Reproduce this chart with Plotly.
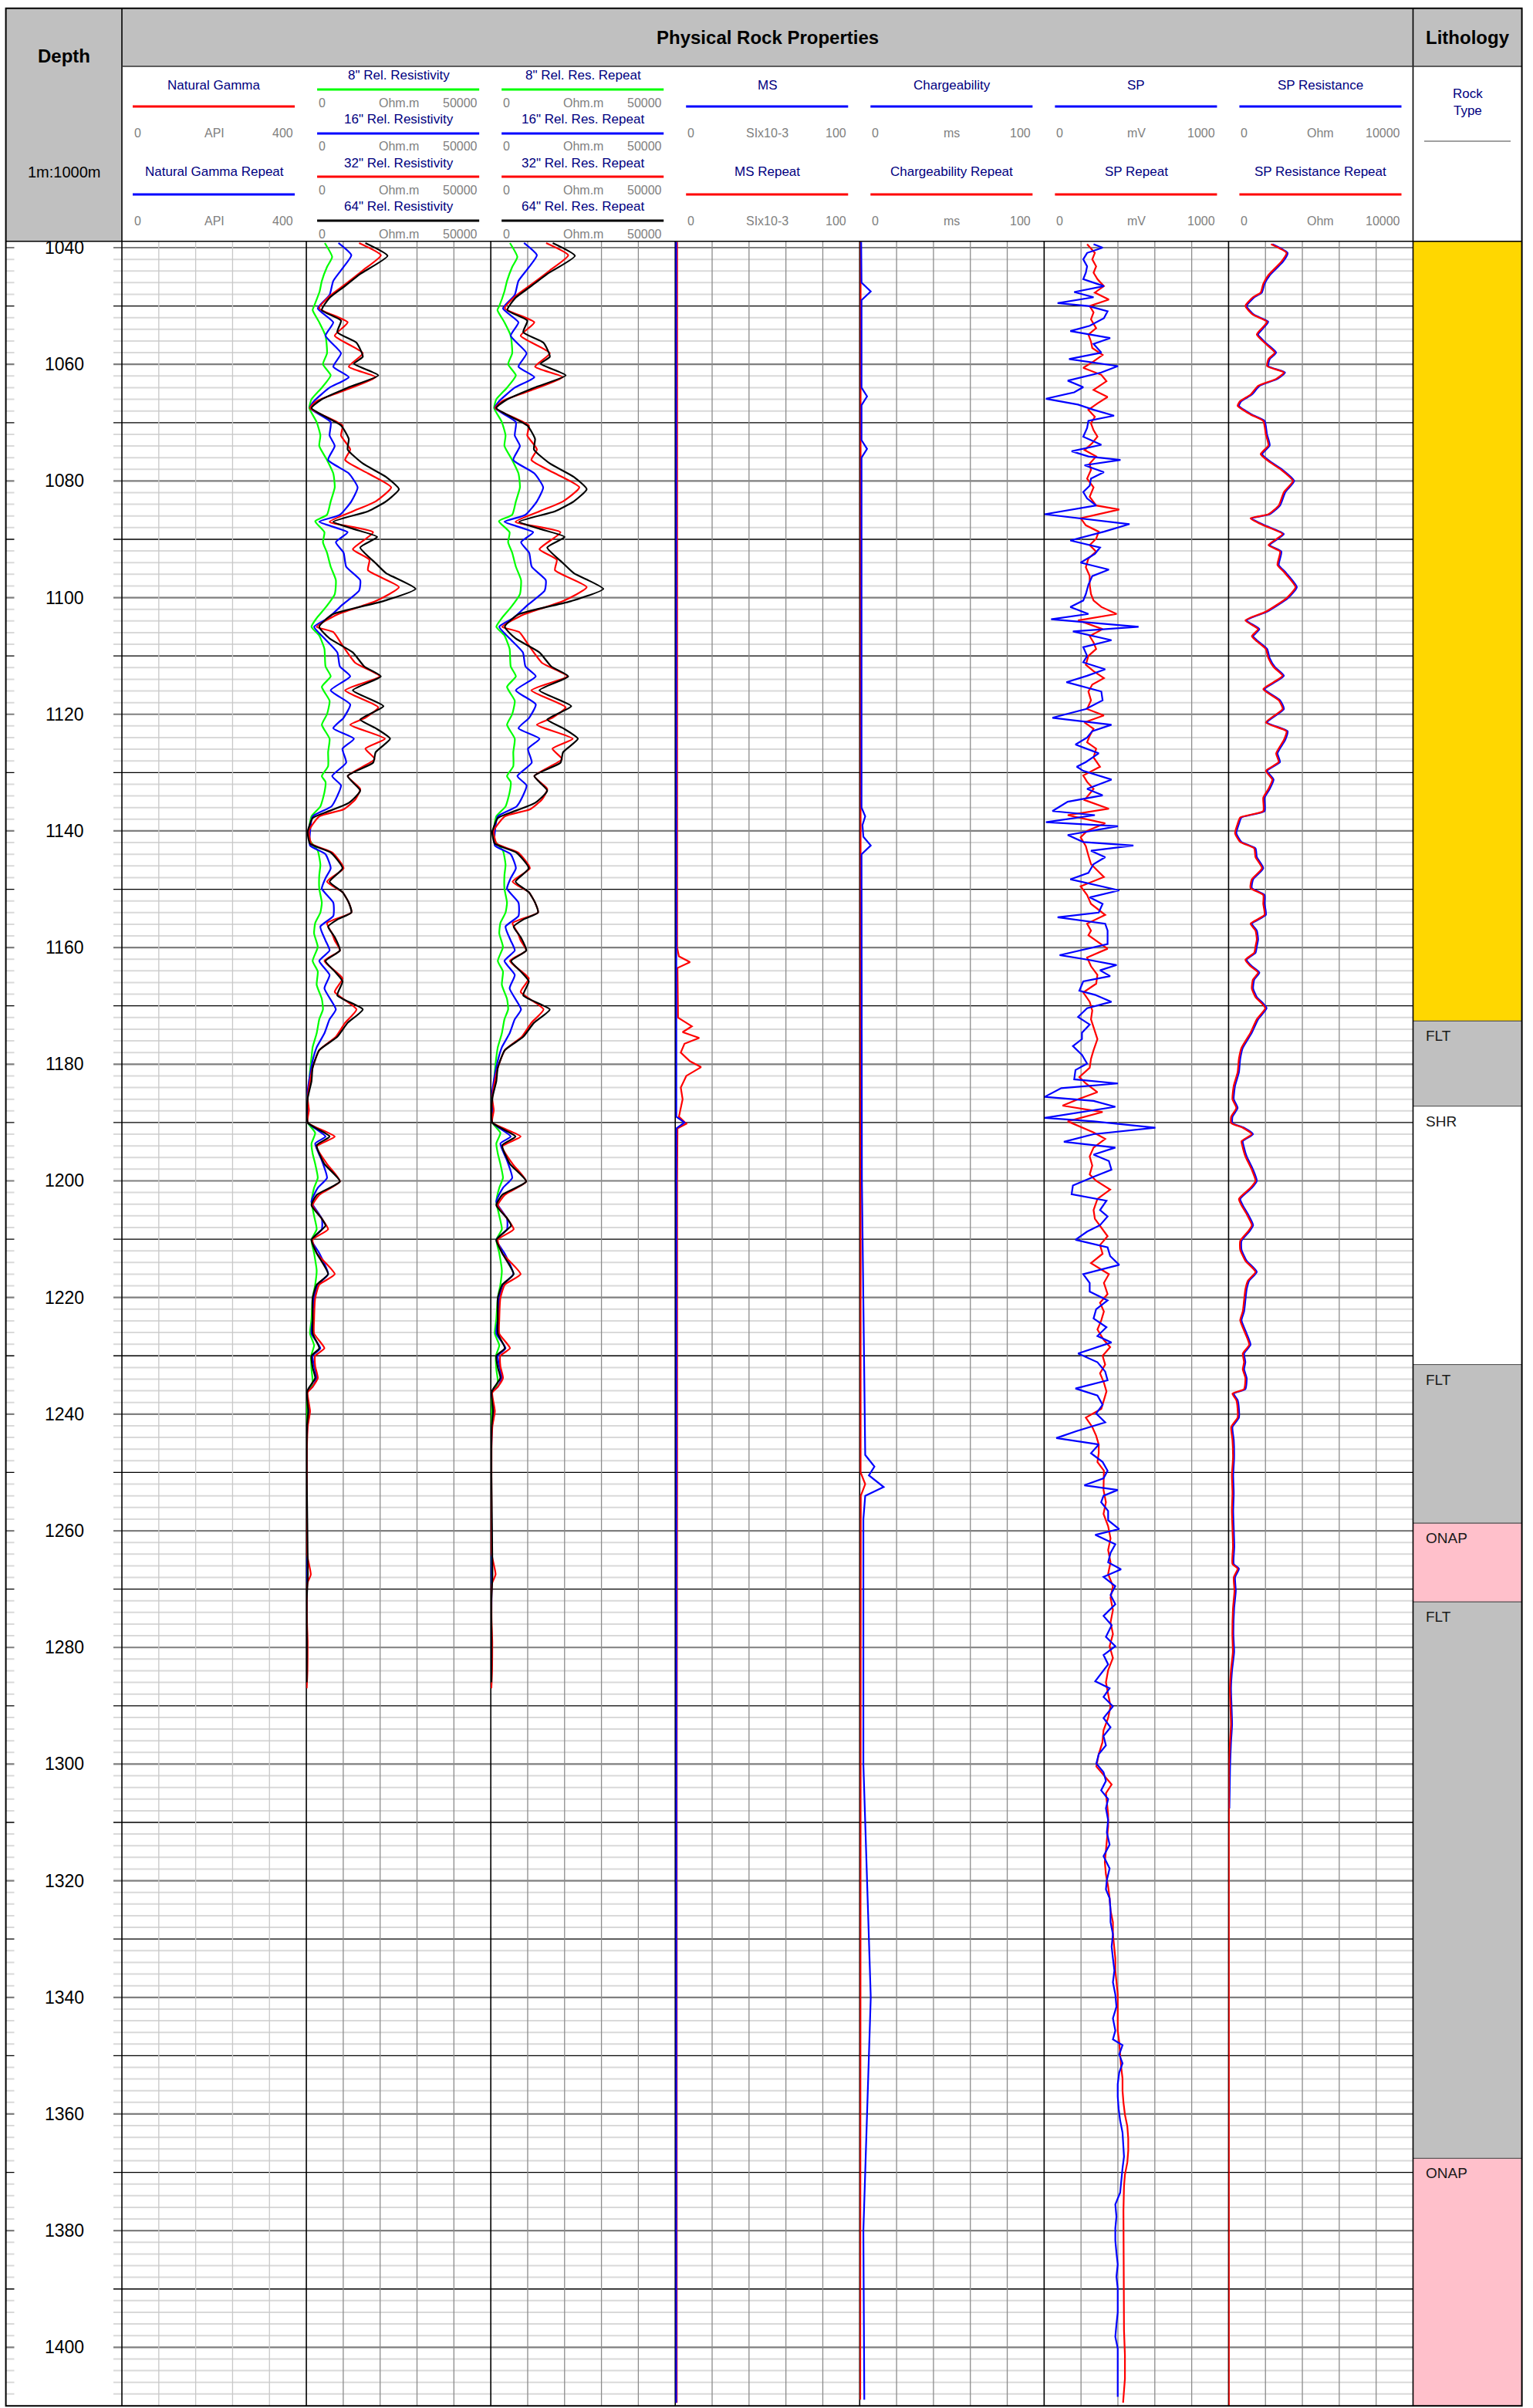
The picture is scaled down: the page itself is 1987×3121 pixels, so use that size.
import plotly.graph_objects as go

# ---------------------------------------------------------------- page geometry
W, H = 1987, 3121
FONT = "Liberation Sans, Arial, Helvetica, sans-serif"


def X(px):
    return px / W


def Y(py):
    return 1 - py / H


DEPTH_TOP, DEPTH_BOTTOM = 1038.9, 1410.05
PLOT_TOP_PX, PLOT_BOTTOM_PX = 312.7, 3118.3
LEFT_PX, DEPTH_COL_PX, LITH_PX, RIGHT_PX = 7.6, 158.0, 1831.5, 1972.6
TOP_PX, BAND_PX = 10.7, 86.0
N_TRACKS = 7
TRACK_W = (LITH_PX - DEPTH_COL_PX) / N_TRACKS
TRACK_EDGES = [DEPTH_COL_PX + i * TRACK_W for i in range(N_TRACKS + 1)]

# ---------------------------------------------------------------- track headers
TRACK_TITLES = [
    ["Natural Gamma", "Natural Gamma Repeat"],
    ['8" Rel. Resistivity', '16" Rel. Resistivity', '32" Rel. Resistivity', '64" Rel. Resistivity'],
    ['8" Rel. Res. Repeat', '16" Rel. Res. Repeat', '32" Rel. Res. Repeat', '64" Rel. Res. Repeat'],
    ["MS", "MS Repeat"],
    ["Chargeability", "Chargeability Repeat"],
    ["SP", "SP Repeat"],
    ["SP Resistance", "SP Resistance Repeat"],
]
TRACK_COLORS = [
    ["red", "blue"],
    ["#00FF00", "blue", "red", "black"],
    ["#00FF00", "blue", "red", "black"],
    ["blue", "red"],
    ["blue", "red"],
    ["blue", "red"],
    ["blue", "red"],
]
TRACK_UNITS = ["API", "Ohm.m", "Ohm.m", "SIx10-3", "ms", "mV", "Ohm"]
TRACK_MAX = [400, 50000, 50000, 100, 100, 1000, 10000]

DEPTH_LABELS = list(range(1040, 1401, 20))

# ---------------------------------------------------------------- lithology
LITH_TOP = [1038.9, 1172.6, 1187.2, 1231.5, 1258.7, 1272.2, 1367.6]
LITH_BASE = [1172.6, 1187.2, 1231.5, 1258.7, 1272.2, 1367.6, 1410.05]
LITH_CODE = ["", "FLT", "SHR", "FLT", "ONAP", "FLT", "ONAP"]
LITH_FILL = ["#FFD700", "#C0C0C0", "#FFFFFF", "#C0C0C0", "#FFC0CB", "#C0C0C0", "#FFC0CB"]

# ---------------------------------------------------------------- relative resistivity (Ohm.m)
RES8_DEPTH = [1039.2, 1041.6, 1043.3, 1045.7, 1047.5, 1050.0, 1050.7, 1052.8, 1055.1, 1058.1,
              1060.0, 1061.9, 1064.0, 1066.0, 1067.5, 1069.9, 1072.2, 1074.0, 1076.4, 1078.7,
              1081.1, 1083.5, 1085.8, 1086.9, 1088.8, 1090.5, 1092.3, 1094.7, 1097.0, 1099.4,
              1101.7, 1103.5, 1105.0, 1106.5, 1108.8, 1111.8, 1113.5, 1115.3, 1117.7, 1120.0,
              1121.8, 1124.2, 1126.5, 1128.9, 1130.6,
              1131.6, 1133.4, 1135.8, 1137.5, 1140.0, 1141.7, 1143.4, 1145.8, 1147.6, 1149.9,
              1152.3, 1154.0, 1155.8, 1157.6, 1159.9, 1162.3, 1164.1, 1166.4, 1168.8, 1170.6,
              1172.3, 1174.7, 1177.1, 1178.8, 1181.2, 1183.5, 1185.3, 1187.7, 1190.0, 1191.8,
              1193.6, 1195.3, 1197.1, 1199.5, 1201.2, 1203.6, 1206.0, 1208.3, 1210.1, 1212.4,
              1215.4, 1217.8, 1220.1,
              1223.7, 1226.2, 1228.2, 1230.0, 1232.3, 1234.3, 1235.3, 1236.3, 1238.5, 1241.0,
              1245.0, 1255.0, 1265.0, 1267.5, 1270.0, 1280.0, 1285.0]
RES8 = [5000, 7000, 5600, 4200, 3600, 2100, 1700, 3500, 5200, 5600,
        4500, 6600, 4200, 1400, 800, 2800, 3800, 3500, 5600, 7300,
        7700, 6600, 5600, 2400, 4900, 4500, 5600, 6600, 8000, 7700,
        5200, 2800, 1400, 3500, 4900, 5200, 6600, 4200, 6300, 5600,
        4200, 6300, 5900, 5900, 4200,
        5200, 4900, 3800, 1400, 700, 1000, 3100, 3800, 3500, 3500,
        4200, 3800, 2400, 2100, 3100, 1700, 3100, 2800, 4200, 4500,
        3500, 2800, 1700, 1400, 1000, 700, 350, 350, 350, 2400,
        1400, 1700, 2400, 3100, 2100, 1400, 2100, 2800, 1400, 2100,
        2800, 2400, 1700,
        1400, 1000, 2100, 1300, 1400, 1700, 1300, 150, 200, 150,
        100, 100, 150, 300, 100, 150, 100]
RES8_REP = [5200, 7200, 5800, 4400, 3700, 2300, 1800, 3700, 5400, 5800,
            4700, 6800, 4400, 1500, 900, 3000, 4000, 3700, 5800, 7500,
            7900, 6800, 5800, 2200, 5100, 4700, 5800, 6800, 8200, 7900,
            5400, 3000, 1500, 3700, 5100, 5400, 6800, 4400, 6500, 5800,
            4400, 6500, 6100, 6100, 4400,
            5400, 5100, 4000, 1500, 800, 1100, 3300, 4000, 3700, 3700,
            4400, 4000, 2600, 2300, 3300, 1900, 3300, 3000, 4400, 4700,
            3700, 3000, 1900, 1500, 1100, 800, 400, 400, 400, 2600,
            1500, 1900, 2600, 3300, 2300, 1500, 2300, 3000, 1500, 2300,
            3000, 2600, 1900,
            1500, 1100, 2300, 1400, 1500, 1900, 1400, 200, 250, 200,
            150, 150, 200, 350, 150, 200, 150]

RES16_DEPTH = [1039.2, 1041.3, 1043.3, 1045.7, 1048.1, 1050.4, 1052.8, 1055.1, 1058.1, 1060.4,
               1062.2, 1064.0, 1066.3, 1067.5, 1069.9, 1072.2, 1074.0, 1076.4, 1078.7, 1081.1,
               1083.5, 1085.8, 1087.0, 1088.8, 1090.5, 1092.3, 1094.7, 1097.0, 1098.8, 1101.2,
               1103.5, 1105.0, 1107.0, 1109.4, 1111.8, 1113.5, 1115.9, 1118.3, 1120.6, 1122.4,
               1124.2, 1125.9, 1128.3, 1130.6,
               1132.2, 1134.0, 1135.8, 1137.5, 1140.2, 1142.5, 1144.0, 1146.4, 1148.1, 1149.9,
               1152.3, 1154.6, 1156.4, 1158.8, 1160.5, 1162.3, 1164.7, 1167.0, 1170.6, 1172.3,
               1174.7, 1177.1, 1179.4, 1181.8, 1184.7, 1187.7, 1190.0, 1192.4, 1193.6, 1196.5,
               1199.5, 1201.2, 1203.6, 1206.5, 1208.3, 1210.1, 1212.4, 1216.0, 1217.8, 1220.1,
               1223.7, 1226.2, 1228.7, 1230.0, 1231.8, 1233.8, 1235.3, 1236.3, 1239.5, 1242.0,
               1246.0, 1255.0, 1267.0, 1275.0, 1285.0]
RES16 = [8700, 12200, 10100, 7300, 6300, 3100, 7300, 5200, 9400, 7300,
         11500, 6300, 2100, 1000, 6600, 6300, 7700, 5900, 11500, 13900,
         12200, 9100, 3500, 11200, 8000, 10100, 10800, 14600, 14300, 9800,
         5900, 2100, 4900, 8400, 9100, 11900, 6600, 11900, 10100, 7300,
         12900, 9800, 10800, 7000,
         9400, 8400, 6800, 1700, 1000, 1000, 5200, 6600, 5200, 4200,
         7300, 7300, 3800, 5200, 6300, 3500, 6300, 4900, 8000, 6300,
         4900, 2800, 1700, 1000, 350, 350, 350, 5200, 2400, 4200,
         5600, 3100, 1400, 4200, 4200, 1400, 3500, 5900, 3100, 2100,
         1700, 1400, 3800, 1700, 2100, 2800, 1700, 150, 900, 300,
         100, 100, 200, 100, 100]
RES16_REP = [9000, 12500, 10400, 7500, 6500, 3300, 7500, 5400, 9700, 7500,
             11800, 6500, 2300, 1100, 6800, 6500, 7900, 6100, 11800, 14200,
             12500, 9400, 3700, 11500, 8200, 10400, 11100, 14900, 14600, 10100,
             6100, 2300, 5100, 8700, 9400, 12200, 6800, 12200, 10400, 7500,
             13200, 10100, 11100, 7200,
             9700, 8700, 7000, 1900, 1100, 1100, 5400, 6800, 5400, 4400,
             7500, 7500, 4000, 5400, 6500, 3700, 6500, 5100, 8200, 6500,
             5100, 3000, 1900, 1100, 400, 400, 400, 5400, 2600, 4400,
             5800, 3300, 1500, 4400, 4400, 1500, 3700, 6100, 3300, 2300,
             1900, 1500, 4000, 1900, 2300, 3000, 1900, 200, 1000, 350,
             150, 150, 250, 150, 150]

RES32_DEPTH = [1039.2, 1041.3, 1043.9, 1046.3, 1048.3, 1050.4, 1052.8, 1055.1, 1058.1, 1060.4,
               1062.2, 1064.6, 1066.3, 1067.5, 1070.5, 1072.2, 1074.6, 1076.4, 1078.7, 1081.1,
               1083.5, 1085.2, 1087.0, 1088.8, 1091.7, 1093.5, 1095.3, 1098.2, 1100.6, 1102.9,
               1105.0, 1105.9, 1108.2, 1111.2, 1113.5, 1115.9, 1118.8, 1120.6, 1121.8, 1124.2,
               1125.9, 1127.7, 1130.6,
               1132.8, 1134.6, 1136.3, 1137.5, 1140.0, 1142.2, 1143.7, 1146.4, 1148.7, 1150.5,
               1152.3, 1154.0, 1155.8, 1157.6, 1158.8, 1160.5, 1162.3, 1165.3, 1167.6, 1170.6,
               1172.9, 1175.3, 1177.6, 1180.6, 1182.9, 1185.9, 1187.9, 1190.0, 1192.4, 1194.1,
               1197.1, 1200.1, 1202.4, 1204.2, 1206.5, 1208.3, 1210.1, 1212.4, 1216.0, 1217.8,
               1220.1,
               1223.7, 1226.2, 1228.7, 1230.0, 1231.8, 1233.8, 1235.3, 1236.3, 1239.5, 1242.0,
               1246.0, 1255.0, 1264.0, 1267.5, 1269.0, 1275.0, 1279.0, 1284.0, 1287.0]
RES32 = [14300, 20200, 15300, 10500, 6300, 3500, 11200, 7700, 15300, 11500,
         18800, 9800, 2800, 1000, 9800, 9400, 11900, 10500, 16700, 23000,
         18800, 12600, 6300, 18100, 12600, 17100, 16700, 25100, 18800, 8400,
         2800, 7300, 9800, 13300, 19900, 10500, 19500, 16000, 11900, 21300,
         16000, 18500, 11200,
         14600, 13300, 10100, 3500, 700, 1400, 7000, 10100, 5600, 9800,
         11500, 12200, 5600, 7000, 7700, 9100, 4900, 9800, 7700, 13600,
         10500, 8000, 3500, 1700, 1000, 350, 700, 350, 7700, 2800,
         5600, 9100, 3500, 1700, 4200, 5900, 1700, 2800, 7700, 3500,
         2400,
         2100, 2100, 4900, 2400, 2400, 3100, 1700, 350, 1000, 400,
         150, 150, 200, 1200, 300, 150, 350, 300, 100]
RES32_REP = [15000, 21000, 16000, 11000, 6700, 3800, 11800, 8100, 16000, 12000,
             19500, 10300, 3100, 1200, 10300, 9900, 12500, 11000, 17400, 24000,
             19600, 13200, 6700, 18900, 13200, 17900, 17400, 26000, 19600, 8900,
             3100, 7700, 10300, 13900, 20700, 11000, 20300, 16700, 12500, 22200,
             16700, 19300, 11800,
             15300, 13900, 10600, 3800, 800, 1600, 7400, 10600, 5900, 10300,
             12000, 12800, 5900, 7400, 8100, 9600, 5200, 10300, 8100, 14300,
             11000, 8400, 3800, 1900, 1100, 400, 800, 400, 8100, 3100,
             5900, 9600, 3800, 1900, 4500, 6200, 1900, 3100, 8100, 3800,
             2600,
             2300, 2300, 5200, 2600, 2600, 3300, 1900, 400, 1100, 450,
             200, 200, 250, 1300, 350, 200, 400, 350, 150]

RES64_DEPTH = [1039.2, 1041.4, 1044.5, 1046.9, 1048.6, 1050.7, 1052.5, 1054.5, 1056.3, 1058.7,
               1059.9, 1061.9, 1064.0, 1066.0, 1067.5, 1070.5, 1072.8, 1074.6, 1077.0, 1079.3,
               1081.4, 1083.5, 1085.2, 1087.0, 1088.2, 1089.6, 1091.4, 1094.1, 1095.8, 1098.5,
               1100.6, 1102.9, 1105.0, 1107.0, 1109.4, 1111.8, 1113.5, 1115.9, 1118.6, 1120.9,
               1122.4, 1124.2, 1126.5, 1128.3, 1130.6,
               1133.1, 1135.2, 1136.9, 1137.8, 1140.2, 1142.2, 1143.7, 1146.4, 1148.7, 1150.5,
               1152.3, 1154.0, 1155.2, 1156.4, 1158.2, 1160.5, 1162.3, 1164.1, 1165.8, 1168.2,
               1170.6, 1172.9, 1175.3, 1177.6, 1180.6, 1182.9, 1185.9, 1190.0, 1192.4, 1193.9,
               1197.1, 1200.1, 1202.4, 1204.2, 1206.5, 1207.7, 1210.1, 1212.4, 1216.0, 1217.8,
               1220.1,
               1223.7, 1226.2, 1228.7, 1230.0, 1232.0, 1233.8, 1235.6, 1236.3, 1239.5, 1242.0,
               1250.0, 1267.5, 1272.0, 1280.0, 1286.0]
RES64 = [16000, 22000, 14600, 9800, 6300, 4200, 9400, 8400, 13600, 15300,
         12900, 19500, 11200, 4200, 1400, 9400, 11500, 11200, 15300, 21600,
         25100, 21600, 16700, 7300, 12600, 19200, 14600, 18800, 21600, 29600,
         20900, 7000, 3500, 6300, 12600, 15700, 20200, 12600, 20900, 14600,
         18800, 22700, 18800, 18100, 11200,
         14600, 11500, 4900, 1700, 350, 1000, 6600, 9800, 6300, 9800,
         11500, 12200, 8400, 5900, 7700, 9100, 5200, 7700, 9800, 8400,
         15300, 11200, 8400, 3500, 1700, 1400, 350, 350, 6300, 2800,
         4900, 9100, 2800, 1400, 4200, 5200, 1400, 2800, 5900, 2800,
         1700,
         1700, 1700, 3500, 1400, 1700, 2400, 600, 150, 500, 200,
         100, 400, 100, 150, 100]
RES64_REP = [16800, 22800, 15300, 10300, 6700, 4500, 9900, 8800, 14300, 16000,
             13500, 20300, 11800, 4500, 1500, 9900, 12000, 11700, 16000, 22500,
             26000, 22500, 17400, 7700, 13200, 20000, 15300, 19600, 22500, 30500,
             21800, 7400, 3800, 6700, 13200, 16400, 21000, 13200, 21800, 15300,
             19600, 23600, 19600, 18900, 11800,
             15300, 12000, 5200, 1900, 400, 1100, 6900, 10300, 6700, 10300,
             12000, 12800, 8800, 6200, 8100, 9600, 5500, 8100, 10300, 8800,
             16000, 11700, 8800, 3800, 1900, 1500, 400, 400, 6700, 3100,
             5200, 9600, 3100, 1500, 4500, 5500, 1500, 3100, 6200, 3100,
             1900,
             1900, 1900, 3800, 1500, 1900, 2600, 700, 200, 600, 250,
             150, 450, 150, 200, 150]

# ---------------------------------------------------------------- magnetic susceptibility (SI x10-3)
MS_DEPTH = [1039.0, 1100.0, 1140.0, 1160.0, 1161.5, 1162.5, 1163.5, 1172.0, 1173.5, 1174.5,
            1175.5, 1176.5, 1178.0, 1179.5, 1180.5, 1182.0, 1184.0, 1186.0, 1189.0, 1190.2,
            1191.0, 1200.0, 1250.0, 1300.0, 1409.5]
MS = [1.0, 1.0, 1.2, 1.0, 2.0, 8.0, 1.2, 1.5, 9.0, 4.0,
      13.0, 5.0, 3.0, 8.0, 14.0, 6.0, 3.0, 4.0, 2.0, 6.0,
      1.2, 1.0, 1.0, 0.8, 0.8]
MS_REP_DEPTH = [1039.0, 1189.0, 1190.0, 1191.0, 1300.0, 1409.5]
MS_REP = [0.5, 0.6, 5.0, 0.6, 0.6, 0.5]

# ---------------------------------------------------------------- chargeability (ms)
CHG_DEPTH = [1039.0, 1046.0, 1047.5, 1049.0, 1064.0, 1065.5, 1067.0, 1073.0, 1074.5, 1076.0,
             1136.0, 1137.5, 1139.0, 1141.0, 1142.5, 1144.0, 1200.0, 1247.0, 1249.0, 1250.5,
             1252.5, 1254.0, 1258.0, 1300.0, 1340.0, 1380.0, 1409.0]
CHG = [0.8, 1.0, 6.0, 1.0, 1.0, 4.0, 1.0, 1.0, 4.0, 1.0,
       1.0, 3.0, 1.5, 2.0, 6.0, 1.0, 1.2, 3.0, 8.0, 5.0,
       13.0, 3.0, 2.0, 2.0, 6.0, 2.0, 2.5]
CHG_REP_DEPTH = [1039.0, 1250.0, 1252.0, 1254.0, 1409.0]
CHG_REP = [0.5, 0.5, 3.0, 0.6, 0.3]

# ---------------------------------------------------------------- SP (mV)
SP_DEPTH = [1039.4, 1040.0, 1040.9, 1042.0, 1043.2, 1044.3, 1045.4, 1046.6, 1047.6, 1048.5,
            1049.5, 1050.0, 1050.9, 1052.1, 1053.4, 1054.3, 1055.5, 1056.5, 1058.0, 1059.1,
            1060.3, 1061.4, 1062.8, 1063.9, 1064.8, 1065.9, 1066.9, 1067.8, 1068.8, 1069.7,
            1070.9, 1072.4, 1073.8, 1074.9, 1075.8, 1076.4, 1077.3, 1078.5, 1079.6, 1080.8,
            1081.9, 1083.0, 1084.2, 1085.7, 1087.4, 1088.7, 1090.2, 1091.4, 1092.5, 1094.0,
            1095.2, 1096.3, 1097.8, 1099.4, 1100.5, 1101.6, 1102.8, 1103.7, 1105.0, 1105.8,
            1107.3, 1108.5, 1110.0, 1111.1, 1112.3, 1113.4, 1114.5, 1116.1, 1117.6, 1119.1,
            1120.6, 1121.8, 1122.9, 1124.0, 1125.2, 1126.7, 1128.2, 1129.0, 1129.7, 1131.2,
            1132.8, 1133.9, 1135.0, 1136.6, 1137.3, 1138.5, 1139.2, 1140.7, 1141.9, 1142.5,
            1143.4, 1144.5, 1145.7, 1147.2, 1148.3, 1149.5, 1150.2, 1151.4, 1152.5, 1154.0,
            1154.8, 1155.9, 1157.1,
            1159.4, 1161.3, 1162.1, 1163.0, 1163.9, 1164.9, 1165.8, 1167.4, 1168.1, 1169.3,
            1170.4, 1171.9, 1173.2, 1174.6, 1175.7, 1176.9, 1178.4, 1179.9, 1181.0, 1182.6,
            1183.3, 1184.1, 1185.6, 1186.3, 1187.3, 1188.2, 1189.2, 1189.8, 1190.9, 1192.0,
            1193.3, 1194.3, 1195.5, 1196.6, 1198.1, 1199.3, 1200.8, 1202.3, 1203.4, 1205.0,
            1206.1, 1207.6, 1208.7, 1210.1, 1211.4, 1212.9, 1214.4, 1216.0, 1217.5, 1219.0,
            1220.5, 1222.0, 1223.6, 1225.1, 1226.6, 1227.7, 1229.6, 1231.1, 1232.7, 1234.2,
            1235.6, 1236.8, 1238.4, 1239.9, 1241.4, 1242.9, 1244.1, 1245.2, 1246.7, 1248.2,
            1249.7,
            1251.0, 1252.2, 1253.0, 1254.0, 1255.1, 1256.6, 1258.2, 1259.7, 1260.7, 1262.3,
            1263.8, 1265.4, 1266.6, 1267.9, 1269.5, 1271.0, 1272.6, 1274.6, 1276.2, 1278.2,
            1279.8, 1281.3, 1282.9, 1284.4, 1285.8, 1287.0, 1288.5, 1290.1, 1292.1, 1293.7,
            1295.2, 1296.8, 1298.3, 1299.9, 1301.4, 1302.9, 1304.5, 1306.0, 1307.6, 1309.6,
            1311.7, 1313.8, 1315.8, 1317.9, 1319.9, 1321.5, 1323.0, 1325.1, 1327.1, 1329.2,
            1331.3, 1333.3, 1335.4, 1337.4, 1339.5, 1341.6, 1343.6, 1345.7, 1347.2, 1348.2,
            1349.8, 1351.3, 1352.9, 1354.9, 1357.0, 1359.1, 1361.1, 1363.2, 1365.2, 1367.3,
            1369.3, 1371.4, 1373.5, 1375.5, 1377.6, 1379.6, 1381.7, 1383.8, 1385.8, 1387.9,
            1389.9, 1392.0, 1394.0, 1396.1, 1398.2, 1400.2, 1402.3, 1404.3, 1406.4, 1408.5]
SP = [268, 317, 233, 212, 233, 226, 212, 324, 163, 268,
      73, 240, 344, 324, 247, 142, 358, 268, 310, 135,
      400, 310, 128, 212, 163, 10, 184, 268, 379, 240,
      233, 212, 310, 149, 240, 414, 219, 324, 254, 247,
      212, 233, 282, 3, 463, 324, 142, 303, 275, 198,
      351, 261, 240, 226, 212, 142, 240, 38, 512, 156,
      365, 212, 233, 212, 331, 233, 121, 310, 317, 226,
      45, 365, 261, 233, 170, 296, 226, 177, 212, 365,
      233, 317, 128, 45, 275, 10, 400, 128, 212, 484,
      254, 331, 268, 240, 142, 310, 407, 247, 317, 296,
      73, 331, 344,
      344, 84, 240, 393, 303, 358, 212, 191, 275, 365,
      233, 184, 247, 205, 205, 156, 205, 233, 170, 163,
      400, 93, 3, 268, 386, 205, 3, 268, 603, 268,
      107, 386, 268, 351, 365, 268, 156, 149, 338, 303,
      344, 303, 233, 170, 344, 358, 407, 212, 247, 247,
      344, 282, 268, 338, 289, 365, 184, 289, 331, 344,
      170, 289, 317, 282, 331, 177, 66, 296, 254, 317,
      344,
      322, 218, 399, 322, 309, 347, 347, 407, 277, 386,
      360, 347, 417, 322, 386, 360, 386, 322, 366, 335,
      386, 322, 347, 309, 277, 355, 322, 373, 322, 360,
      322, 335, 296, 283, 322, 335, 309, 347, 335, 347,
      340, 355, 322, 355, 340, 335, 355, 360, 360, 373,
      366, 373, 381, 373, 386, 392, 373, 386, 373, 425,
      407, 425, 407, 399, 399, 404, 412, 425, 430, 433,
      425, 417, 412, 386, 392, 386, 386, 392, 399, 392,
      399, 399, 399, 392, 386, 399, 399, 399, 399, 399]

SP_REP_DEPTH = [1039.4, 1040.9, 1042.0, 1043.2, 1044.3, 1045.4, 1046.6, 1047.7, 1048.9, 1050.0,
                1051.1, 1052.3, 1053.8, 1054.9, 1056.1, 1057.2, 1058.4, 1059.5, 1060.6, 1061.8,
                1062.9, 1064.4, 1065.6, 1066.7, 1067.8, 1069.0, 1070.1, 1071.3, 1072.4, 1073.5,
                1074.7, 1075.8, 1077.0, 1078.1, 1079.6, 1081.1, 1082.7, 1084.2, 1084.9, 1086.4,
                1087.6, 1088.7, 1089.9, 1091.0, 1092.1, 1093.3, 1094.8, 1096.3, 1097.8, 1099.4,
                1100.5, 1101.6, 1102.8, 1103.9, 1105.4, 1106.6, 1107.7, 1108.8, 1110.0, 1111.5,
                1112.6, 1113.8, 1114.9, 1116.1, 1117.6, 1119.1, 1120.2, 1121.4, 1122.5, 1123.7,
                1124.8, 1125.9, 1127.4, 1129.0, 1130.5, 1131.6, 1132.8, 1134.7, 1136.2, 1137.3,
                1138.7, 1140.0, 1141.1, 1142.6, 1144.2, 1145.7, 1147.9, 1149.5, 1151.0, 1152.5,
                1154.4, 1155.9, 1157.1,
                1157.9, 1160.2, 1161.7, 1163.2, 1164.7, 1166.2, 1167.7, 1169.3, 1170.8, 1172.3,
                1173.8, 1175.7, 1177.6, 1179.1, 1180.6, 1182.2, 1183.3, 1184.8, 1186.0, 1187.1,
                1188.2, 1189.8, 1191.7, 1192.8, 1194.3, 1195.8, 1197.4, 1198.9, 1200.0, 1201.5,
                1203.1, 1205.0, 1206.5, 1208.0, 1209.5, 1211.0, 1212.5, 1214.1, 1216.0, 1217.5,
                1219.4, 1220.9, 1222.4, 1223.9, 1225.5, 1227.3, 1228.5, 1230.0, 1231.5, 1233.0,
                1234.6, 1236.1, 1237.6, 1239.1, 1240.6, 1242.2, 1243.7, 1245.2, 1246.7, 1248.2,
                1249.7,
                1253.0, 1255.1, 1257.1, 1259.2, 1261.3, 1263.3, 1265.4, 1267.4, 1269.5, 1271.5,
                1273.6, 1275.7, 1277.7, 1279.8, 1281.8, 1283.9, 1286.0, 1288.0, 1290.1, 1292.1,
                1294.2, 1296.3, 1298.3, 1300.4, 1301.9, 1303.5, 1305.0, 1306.5, 1308.6, 1310.7,
                1312.7, 1314.8, 1316.8, 1318.9, 1321.0, 1323.0, 1325.1, 1327.1, 1329.2, 1331.3,
                1333.3, 1335.4, 1337.4, 1339.5, 1341.6, 1343.6, 1345.7, 1347.7, 1349.8, 1351.8,
                1353.9, 1356.0, 1358.0, 1360.1, 1362.1, 1364.2, 1366.3, 1368.3, 1370.4, 1372.4,
                1376.6, 1380.7, 1384.8, 1388.9, 1393.0, 1397.1, 1401.3, 1405.4, 1409.5]
SP_REP = [233, 275, 261, 282, 268, 289, 324, 275, 351, 247,
          268, 254, 282, 240, 254, 261, 317, 268, 212, 310,
          338, 268, 344, 289, 240, 275, 254, 268, 289, 261,
          219, 282, 247, 254, 233, 268, 247, 282, 407, 198,
          226, 296, 282, 247, 282, 240, 226, 247, 247, 254,
          268, 310, 393, 184, 317, 247, 268, 282, 240, 226,
          268, 324, 261, 240, 254, 233, 324, 219, 268, 247,
          233, 282, 268, 303, 212, 233, 268, 219, 351, 128,
          331, 233, 198, 226, 240, 254, 324, 198, 233, 254,
          331, 233, 254,
          240, 344, 233, 254, 289, 282, 212, 247, 261, 254,
          268, 289, 268, 254, 247, 191, 226, 289, 184, 100,
          317, 128, 268, 331, 268, 247, 261, 247, 282, 358,
          289, 268, 275, 310, 344, 303, 317, 254, 351, 324,
          344, 303, 324, 310, 289, 324, 358, 317, 331, 303,
          324, 338, 324, 310, 226, 261, 282, 296, 296, 289,
          324,
          322, 335, 322, 347, 360, 347, 360, 347, 373, 360,
          373, 360, 373, 355, 373, 347, 335, 347, 360, 347,
          322, 316, 296, 283, 322, 366, 335, 340, 347, 347,
          340, 335, 329, 335, 347, 355, 360, 373, 373, 381,
          386, 386, 392, 399, 399, 399, 399, 407, 412, 417,
          425, 425, 430, 438, 451, 456, 456, 451, 438, 433,
          430, 430, 430, 433, 433, 433, 438, 438, 428]

# ---------------------------------------------------------------- SP resistance (Ohm)
SPR_DEPTH = [1039.4, 1040.9, 1042.4, 1044.7, 1046.2, 1047.7, 1048.5, 1050.0, 1051.5, 1052.7,
             1053.8, 1054.9, 1056.5, 1058.0, 1059.1, 1060.3, 1061.4, 1062.5, 1063.7, 1065.2,
             1066.3, 1067.1, 1068.6, 1069.7, 1072.0, 1073.9, 1075.4, 1076.6, 1078.1, 1080.0,
             1081.9, 1084.2, 1085.7, 1086.4, 1087.6, 1089.1, 1091.0, 1092.1, 1094.4, 1095.6,
             1098.2, 1100.1, 1102.4, 1103.9, 1105.4, 1106.6, 1107.3, 1108.8, 1110.4, 1111.9,
             1113.4, 1114.5, 1115.7, 1117.6, 1119.1, 1121.4, 1122.9, 1124.4, 1126.7, 1128.2,
             1129.7, 1131.2, 1132.8, 1134.3, 1136.6, 1137.7, 1138.8, 1140.4, 1141.9, 1143.0,
             1144.5, 1146.4, 1148.3, 1149.8, 1151.0, 1152.5, 1154.4, 1155.9, 1157.1, 1158.6,
             1159.8, 1160.9, 1162.1, 1163.2, 1164.3, 1165.5, 1167.0, 1168.5, 1169.6, 1170.4,
             1172.3, 1174.6, 1177.2, 1179.1, 1181.4, 1183.7, 1186.0, 1187.5, 1189.0, 1190.1,
             1190.9, 1192.0, 1193.2, 1194.3, 1195.8, 1198.1, 1200.0, 1201.2, 1203.1, 1204.2,
             1205.7, 1207.6, 1208.7, 1210.3, 1211.8, 1213.7, 1215.6, 1217.1, 1218.6, 1220.5,
             1222.4, 1223.9, 1226.2, 1228.1, 1229.6, 1231.1, 1232.3, 1233.8, 1235.7, 1236.5,
             1237.6, 1239.1, 1240.6, 1242.2, 1244.4, 1247.5, 1250.5, 1253.5, 1256.6, 1259.6,
             1262.7, 1265.7, 1266.5, 1268.0, 1270.3, 1273.3, 1277.7, 1280.8, 1283.9, 1287.0,
             1290.1, 1293.2, 1296.3, 1300.4, 1304.5, 1307.6]
SPR = [2380, 3200, 2950, 2240, 1950, 1800, 1400, 980, 1380, 2150,
       1880, 1600, 2080, 2580, 2230, 2150, 3060, 2650, 1680, 1260,
       700, 560, 1250, 1950, 2080, 2230, 1820, 2230, 2930, 3560,
       3080, 2790, 2230, 1260, 1950, 3000, 2230, 2860, 2720, 3070,
       3700, 3210, 2090, 980, 1670, 1330, 1530, 2090, 2230, 2510,
       3000, 2510, 1950, 2790, 3000, 2090, 3200, 3070, 2650, 2790,
       2090, 2440, 2230, 1950, 1950, 700, 560, 420, 700, 1460,
       1530, 1880, 1330, 1260, 1950, 1950, 2020, 1260, 1530, 1600,
       1530, 1460, 980, 1260, 1670, 1390, 1330, 1530, 1880, 2060,
       1600, 1260, 770, 630, 560, 350, 280, 490, 210, 210,
       840, 1330, 770, 840, 980, 1330, 1530, 1260, 630, 770,
       1050, 1330, 1120, 700, 700, 980, 1530, 1120, 980, 910,
       840, 700, 980, 1190, 840, 910, 840, 980, 910, 280,
       490, 560, 560, 210, 280, 300, 250, 280, 250, 280,
       310, 280, 560, 350, 390, 300, 260, 300, 190, 130,
       160, 190, 130, 80, 60, 40]
SPR_REP_DEPTH = SPR_DEPTH + [1312.0, 1340.0, 1380.0, 1410.0]
SPR_REP = [2300, 3140, 2860, 2160, 1880, 1740, 1320, 910, 1320, 2090,
           1810, 1530, 2020, 2510, 2160, 2090, 3000, 2580, 1600, 1190,
           630, 490, 1190, 1880, 2020, 2160, 1740, 2160, 2860, 3490,
           3000, 2720, 2160, 1190, 1880, 2930, 2160, 2790, 2650, 3000,
           3630, 3140, 2020, 910, 1600, 1260, 1460, 2020, 2160, 2440,
           2930, 2440, 1880, 2720, 2930, 2020, 3140, 3000, 2580, 2720,
           2020, 2370, 2160, 1880, 1880, 630, 490, 350, 630, 1390,
           1460, 1810, 1260, 1190, 1880, 1880, 1950, 1190, 1460, 1530,
           1460, 1390, 910, 1190, 1600, 1320, 1260, 1460, 1810, 1990,
           1530, 1190, 700, 560, 490, 280, 210, 420, 140, 140,
           770, 1260, 700, 770, 910, 1260, 1460, 1190, 560, 700,
           980, 1260, 1050, 630, 630, 910, 1460, 1050, 910, 840,
           770, 630, 910, 1120, 770, 840, 770, 910, 840, 210,
           420, 490, 490, 140, 210, 240, 180, 210, 180, 210,
           240, 210, 490, 280, 320, 240, 205, 230, 130, 75,
           100, 130, 75, 20, 20, 20,
           15, 15, 15, 15]

# (track index, depths, values, colour, smooth)
CURVES = [
    (1, RES8_DEPTH, RES8, "#00FF00", True),
    (1, RES16_DEPTH, RES16, "blue", True),
    (1, RES32_DEPTH, RES32, "red", True),
    (1, RES64_DEPTH, RES64, "black", True),
    (2, RES8_DEPTH, RES8_REP, "#00FF00", True),
    (2, RES16_DEPTH, RES16_REP, "blue", True),
    (2, RES32_DEPTH, RES32_REP, "red", True),
    (2, RES64_DEPTH, RES64_REP, "black", True),
    (3, MS_DEPTH, MS, "red", False),
    (3, MS_REP_DEPTH, MS_REP, "blue", False),
    (4, CHG_REP_DEPTH, CHG_REP, "red", False),
    (4, CHG_DEPTH, CHG, "blue", False),
    (5, SP_REP_DEPTH, SP_REP, "red", False),
    (5, SP_DEPTH, SP, "blue", False),
    (6, SPR_DEPTH, SPR, "blue", True),
    (6, SPR_REP_DEPTH, SPR_REP, "red", True),
]
for _, d, v, _, _ in CURVES:
    assert len(d) == len(v), (len(d), len(v))

# ---------------------------------------------------------------- figure
fig = go.Figure()


def axis_name(i, long=True):
    if i == 0:
        return "xaxis" if long else "x"
    return f"xaxis{i + 1}" if long else f"x{i + 1}"


layout = dict(
    width=W, height=H, margin=dict(l=0, r=0, t=0, b=0),
    paper_bgcolor="white", plot_bgcolor="rgba(0,0,0,0)",
    showlegend=False, hovermode=False,
    yaxis=dict(domain=[Y(PLOT_BOTTOM_PX), Y(PLOT_TOP_PX)],
               range=[DEPTH_BOTTOM, DEPTH_TOP], visible=False, anchor="x"),
)
for i in range(N_TRACKS):
    layout[axis_name(i)] = dict(domain=[X(TRACK_EDGES[i]), X(TRACK_EDGES[i + 1])],
                                range=[0, TRACK_MAX[i]], visible=False, anchor="y")
fig.update_layout(**layout)

for ti, d, v, color, smooth in CURVES:
    line = dict(color=color, width=2.2)
    if smooth:
        line.update(shape="spline", smoothing=0.5)
    fig.add_trace(go.Scatter(x=v, y=d, xaxis=axis_name(ti, False), yaxis="y",
                             mode="lines", line=line, hoverinfo="skip"))

shapes = []


def rect(x0, y0, x1, y1, fill, line_color=None, width=0, layer="below"):
    shapes.append(dict(type="rect", xref="paper", yref="paper",
                       x0=X(x0), x1=X(x1), y0=Y(y0), y1=Y(y1),
                       fillcolor=fill, layer=layer,
                       line=dict(color=line_color or fill, width=width)))


def seg(x0, y0, x1, y1, color, width, layer="below"):
    shapes.append(dict(type="line", xref="paper", yref="paper",
                       x0=X(x0), x1=X(x1), y0=Y(y0), y1=Y(y1), layer=layer,
                       line=dict(color=color, width=width)))


# header fills
rect(LEFT_PX, TOP_PX, DEPTH_COL_PX, PLOT_TOP_PX, "#C0C0C0")
rect(DEPTH_COL_PX, TOP_PX, LITH_PX, BAND_PX, "#C0C0C0")
rect(LITH_PX, TOP_PX, RIGHT_PX, BAND_PX, "#C0C0C0")

# lithology column
for top, base, fill in zip(LITH_TOP, LITH_BASE, LITH_FILL):
    shapes.append(dict(type="rect", xref="paper", yref="y", x0=X(LITH_PX), x1=X(RIGHT_PX),
                       y0=top, y1=base, fillcolor=fill, layer="below",
                       line=dict(color="#505050", width=1)))


# horizontal depth grid: 2 m minor, 10 m and 20 m major lines
def hpath(depths):
    parts = []
    for d in depths:
        parts.append(f"M{X(LEFT_PX):.5f},{d} L{X(18.5):.5f},{d}")
        parts.append(f"M{X(147.0):.5f},{d} L{X(LITH_PX):.5f},{d}")
    return " ".join(parts)


minor_depths = [d for d in range(1040, 1410, 2) if d % 10]
ten_depths = [d for d in range(1050, 1410, 20)]
twenty_depths = DEPTH_LABELS
for depths, color, width in [(minor_depths, "#D9D9D9", 2),
                             (ten_depths, "#000000", 1.3),
                             (twenty_depths, "#7F7F7F", 2.2)]:
    shapes.append(dict(type="path", xref="paper", yref="y", path=hpath(depths),
                       layer="below", line=dict(color=color, width=width)))

# vertical grid inside each track
for i in range(N_TRACKS):
    col = "#C8C8C8" if i == 0 else "#8C8C8C"
    for k in range(1, 5):
        xg = TRACK_EDGES[i] + k * TRACK_W / 5
        seg(xg, PLOT_TOP_PX, xg, PLOT_BOTTOM_PX, col, 1.3)

# track borders
for xe in TRACK_EDGES[1:-1]:
    seg(xe, PLOT_TOP_PX, xe, PLOT_BOTTOM_PX, "black", 1.6)
seg(DEPTH_COL_PX, TOP_PX, DEPTH_COL_PX, PLOT_BOTTOM_PX, "black", 1.6, "above")
seg(LITH_PX, TOP_PX, LITH_PX, PLOT_BOTTOM_PX, "black", 1.6, "above")
seg(DEPTH_COL_PX, BAND_PX, RIGHT_PX, BAND_PX, "#303030", 1.6, "above")
seg(LEFT_PX, PLOT_TOP_PX, RIGHT_PX, PLOT_TOP_PX, "black", 1.6, "above")
rect(LEFT_PX, TOP_PX, RIGHT_PX, PLOT_BOTTOM_PX, "rgba(0,0,0,0)", "black", 2, "above")

annotations = []


def text(s, x, y, size, color="black", xanchor="center", yanchor="middle", bold=False):
    annotations.append(dict(text=f"<b>{s}</b>" if bold else s, x=X(x), y=Y(y),
                            xref="paper", yref="paper", showarrow=False,
                            xanchor=xanchor, yanchor=yanchor,
                            font=dict(family=FONT, size=size, color=color)))


text("Depth", 83, 72, 24, bold=True)
text("1m:1000m", 83, 223, 20)
text("Physical Rock Properties", (DEPTH_COL_PX + LITH_PX) / 2, 49, 24, bold=True)
text("Lithology", (LITH_PX + RIGHT_PX) / 2, 49, 24, bold=True)
text("Rock<br>Type", (LITH_PX + RIGHT_PX) / 2, 132, 17, color="#000080")
seg(1846, 183, 1958, 183, "#808080", 1.5, "above")

# curve legends in the track headers
for i in range(N_TRACKS):
    x0 = TRACK_EDGES[i] + 14
    x1 = TRACK_EDGES[i + 1] - 15
    xc = (TRACK_EDGES[i] + TRACK_EDGES[i + 1]) / 2
    n = len(TRACK_TITLES[i])
    if n == 2:
        rows = [(110, 138, 173), (223, 252, 286)]
    else:
        rows = [(98, 116, 134), (155, 173, 190), (211, 229, 247), (268, 286, 304)]
    for (ty, ly, sy), title, color in zip(rows, TRACK_TITLES[i], TRACK_COLORS[i]):
        text(title, xc, ty, 17, color="#000080")
        seg(x0, ly, x1, ly, color, 3, "above")
        text("0", x0, sy, 16, color="#808080", xanchor="left")
        text(TRACK_UNITS[i], xc, sy, 16, color="#808080")
        text(str(TRACK_MAX[i]), x1, sy, 16, color="#808080", xanchor="right")

# depth labels
for d in DEPTH_LABELS:
    annotations.append(dict(text=str(d), x=X(83), y=d, xref="paper", yref="y",
                            showarrow=False, xanchor="center", yanchor="middle",
                            font=dict(family=FONT, size=23, color="black")))

# lithology codes
for top, code in zip(LITH_TOP, LITH_CODE):
    if code:
        annotations.append(dict(text=code, x=X(1845.5), y=top, xref="paper", yref="y",
                                showarrow=False, xanchor="left", yanchor="top", yshift=-7,
                                font=dict(family=FONT, size=19, color="#1A1A1A")))

fig.update_layout(shapes=shapes, annotations=annotations)
fig.write_html("out.html")
